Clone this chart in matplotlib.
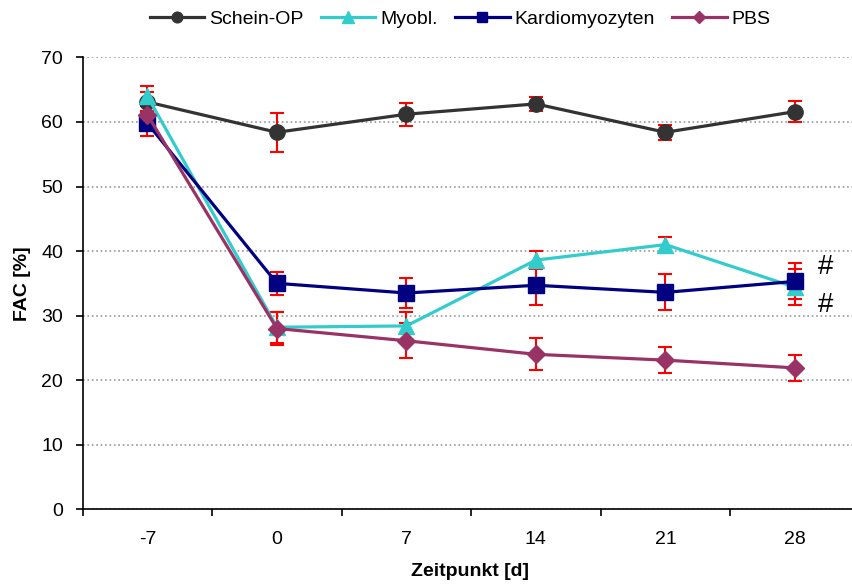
import numpy as np
import matplotlib
matplotlib.use('Agg')
import matplotlib.pyplot as plt

plt.rcParams['font.family'] = ['Liberation Sans', 'DejaVu Sans']

#######################
# Data
#######################
days = ['-7', '0', '7', '14', '21', '28']

schein     = [63.1, 58.4, 61.2, 62.8, 58.4, 61.6]
schein_err = [1.5, 3.0, 1.8, 1.1, 1.2, 1.6]

myobl      = [64.0, 28.2, 28.4, 38.6, 41.0, 34.4]
myobl_err  = [1.5, 2.4, 2.2, 1.4, 1.2, 2.8]

kardio     = [59.8, 35.0, 33.5, 34.7, 33.6, 35.3]
kardio_err = [1.9, 1.8, 2.3, 3.0, 2.8, 2.8]

pbs        = [61.1, 28.0, 26.1, 24.0, 23.1, 21.9]
pbs_err    = [1.5, 2.5, 2.7, 2.5, 2.0, 2.0]

# significance marks next to the last time point
hash_y = [37.6, 31.7]

#######################
# Figure
#######################
fig = plt.figure(figsize=(8.52, 5.86), dpi=100)
ax = fig.add_axes([0.097, 0.131, 0.912, 0.771])

x = np.arange(len(days))

series = [
    ('Schein-OP', schein, schein_err, '#333333', 'o', 11),
    ('Myobl.', myobl, myobl_err, '#33CCCC', '^', 12),
    ('Kardiomyozyten', kardio, kardio_err, '#000080', 's', 11),
    ('PBS', pbs, pbs_err, '#993366', 'D', 9),
]

# error bars behind all lines/markers
for name, y, err, col, mk, ms in series:
    ax.errorbar(x, y, yerr=err, fmt='none', ecolor='#FF0000',
                elinewidth=1.5, capsize=5, capthick=1.5, zorder=2)

for i, (name, y, err, col, mk, ms) in enumerate(series):
    ax.plot(x, y, color=col, lw=2.3, marker=mk, markersize=ms,
            markeredgecolor=col, label=name, zorder=3 + i)

for hy in hash_y:
    ax.text(5.235, hy, '#', fontsize=20, ha='center', va='center')

# axes
ax.set_xlim(-0.5, 5.5)
ax.set_ylim(0, 70)
ax.set_yticks(np.arange(0, 71, 10))
ax.set_xticks(np.arange(-0.5, 5.6, 1.0))
ax.set_xticklabels([])
ax.set_xticks(x, minor=True)
ax.set_xticklabels(days, minor=True)
ax.tick_params(axis='x', which='major', direction='out', length=5, width=1.2)
ax.tick_params(axis='x', which='minor', length=0, pad=16, labelsize=14)
ax.tick_params(axis='y', direction='out', length=5, width=1.2, pad=9, labelsize=14)

for s in ['top', 'right']:
    ax.spines[s].set_visible(False)
ax.spines['left'].set_linewidth(1.2)
ax.spines['bottom'].set_linewidth(1.2)

ax.yaxis.grid(True, linestyle=':', color='#999999', linewidth=1.2)
ax.set_axisbelow(True)

ax.set_ylabel('FAC [%]', fontsize=14, fontweight='bold', va='center')
ax.yaxis.set_label_coords(-0.078, 0.5)
ax.set_xlabel('Zeitpunkt [d]', fontsize=14, fontweight='bold', va='center')
ax.xaxis.set_label_coords(0.498, -0.137)

fig.legend(loc='center', bbox_to_anchor=(0.54, 0.968), ncol=4, frameon=False,
           fontsize=14, handlelength=2.8, handletextpad=0.25, columnspacing=0.9,
           markerscale=0.7)

fig.savefig('out.png', dpi=100)
